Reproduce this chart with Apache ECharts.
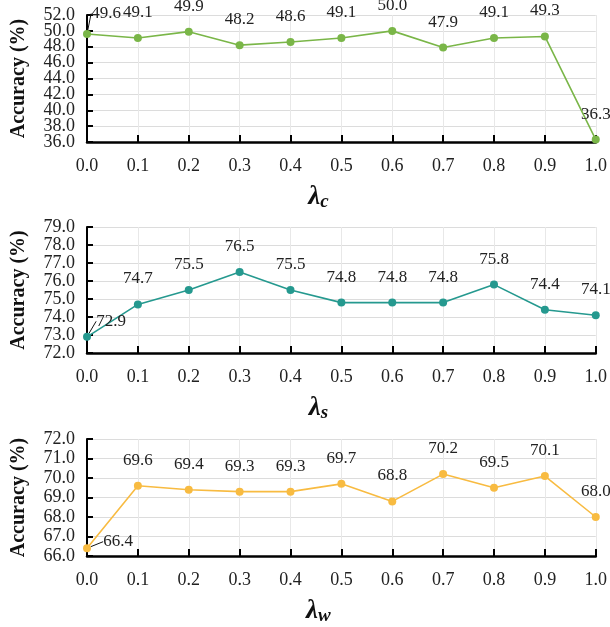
<!DOCTYPE html>
<html>
<head>
<meta charset="utf-8">
<script src="https://cdn.jsdelivr.net/npm/echarts@6/dist/echarts.min.js"></script>
<style>
  html, body { margin: 0; padding: 0; background: #fff; }
  #main { width: 610px; height: 627px; }
</style>
</head>
<body>
<div id="main"></div>
<script>
// lambda values on the x axis
var lambdas = ['0.0', '0.1', '0.2', '0.3', '0.4', '0.5', '0.6', '0.7', '0.8', '0.9', '1.0'];
// accuracy (%) for each lambda
var accC = [49.6, 49.1, 49.9, 48.2, 48.6, 49.1, 50.0, 47.9, 49.1, 49.3, 36.3];
var accS = [72.9, 74.7, 75.5, 76.5, 75.5, 74.8, 74.8, 74.8, 75.8, 74.4, 74.1];
var accW = [66.4, 69.6, 69.4, 69.3, 69.3, 69.7, 68.8, 70.2, 69.5, 70.1, 68.0];
// y axis ranges: min, max, step
var rangeC = [36, 52, 2];
var rangeS = [72, 79, 1];
var rangeW = [66, 72, 1];

var serif = 'Liberation Serif';

var panels = [
    { data: accC, range: rangeC, color: '#7ab648', sub: 'c', top: 15, height: 127, shift: [19, 5] },
    { data: accS, range: rangeS, color: '#25998f', sub: 's', top: 227, height: 126, shift: [24, 10] },
    { data: accW, range: rangeW, color: '#f8bb41', sub: 'w', top: 439, height: 128, shift: [31, 19] }
];

var grids = [], xAxes = [], yAxes = [], series = [];

// the tick labels are packed tightly, so alternate ones go on an overlaid twin axis
// (otherwise echarts drops the ones that touch)
function tickFormatter(p, parity) {
    return function (v) {
        var k = Math.round((v - p.range[0]) / p.range[2]);
        return k % 2 === parity ? v.toFixed(1) : '';
    };
}

panels.forEach(function (p, i) {
    grids.push({ left: 87, right: 14, top: p.top, height: p.height });
    xAxes.push({
        type: 'category',
        gridIndex: i,
        data: lambdas,
        boundaryGap: false,
        axisLine: { lineStyle: { color: '#000', width: 2.5 } },
        axisTick: { inside: true, length: 7, lineStyle: { color: '#000', width: 2 } },
        axisLabel: { fontFamily: serif, fontSize: 18, color: '#222', margin: 15 },
        splitLine: { show: true, lineStyle: { color: '#e8e8e8', width: 1 } },
        name: '{l|λ}{s|' + p.sub + '}',
        nameLocation: 'middle',
        nameGap: 40,
        nameTextStyle: {
            padding: [0, 46, 0, 0],
            rich: {
                l: { fontFamily: serif, fontSize: 27, fontWeight: 'bold', fontStyle: 'italic', color: '#111' },
                s: { fontFamily: serif, fontSize: 19, fontWeight: 'bold', fontStyle: 'italic', color: '#111', padding: [11, 0, 0, 0] }
            }
        }
    });
    yAxes.push({
        type: 'value',
        gridIndex: i,
        position: 'left',
        min: p.range[0],
        max: p.range[1],
        interval: p.range[2],
        axisLine: { show: true, lineStyle: { color: '#000', width: 2 } },
        axisTick: { show: true, inside: true, length: 6, lineStyle: { color: '#000', width: 2 } },
        axisLabel: {
            fontFamily: serif, fontSize: 18, color: '#222', margin: 12,
            showMinLabel: true, showMaxLabel: true,
            formatter: tickFormatter(p, 0)
        },
        splitLine: { lineStyle: { color: '#dcdcdc', width: 1 } },
        name: 'Accuracy (%)',
        nameLocation: 'middle',
        nameGap: 58,
        nameTextStyle: { fontFamily: serif, fontSize: 20, fontWeight: 'bold', color: '#111' }
    });
    yAxes.push({
        type: 'value',
        gridIndex: i,
        position: 'left',
        offset: 0,
        min: p.range[0],
        max: p.range[1],
        interval: p.range[2],
        axisLine: { show: false },
        axisTick: { show: false },
        splitLine: { show: false },
        axisLabel: {
            fontFamily: serif, fontSize: 18, color: '#222', margin: 12,
            showMinLabel: true, showMaxLabel: true,
            formatter: tickFormatter(p, 1)
        }
    });
    series.push({
        type: 'line',
        xAxisIndex: i,
        yAxisIndex: 2 * i,
        data: p.data.map(function (v, k) {
            var item = { value: v };
            // first point: label pushed aside with a leader line
            if (k === 0) item.labelLine = { show: true, lineStyle: { color: '#111', width: 1 } };
            return item;
        }),
        symbol: 'circle',
        symbolSize: 8,
        color: p.color,
        lineStyle: { color: p.color, width: 1.6 },
        clip: false,
        label: {
            show: true,
            position: 'top',
            distance: 13,
            fontFamily: serif,
            fontSize: 17,
            color: '#222',
            formatter: function (params) { return params.value.toFixed(1); }
        },
        labelLayout: function (params) {
            if (params.dataIndex === 0) {
                return { dx: p.shift[0], dy: p.shift[1] };
            }
            return {};
        }
    });
});

var chart = echarts.init(document.getElementById('main'));
chart.setOption({
    animation: false,
    grid: grids,
    xAxis: xAxes,
    yAxis: yAxes,
    series: series
});
</script>
</body>
</html>
